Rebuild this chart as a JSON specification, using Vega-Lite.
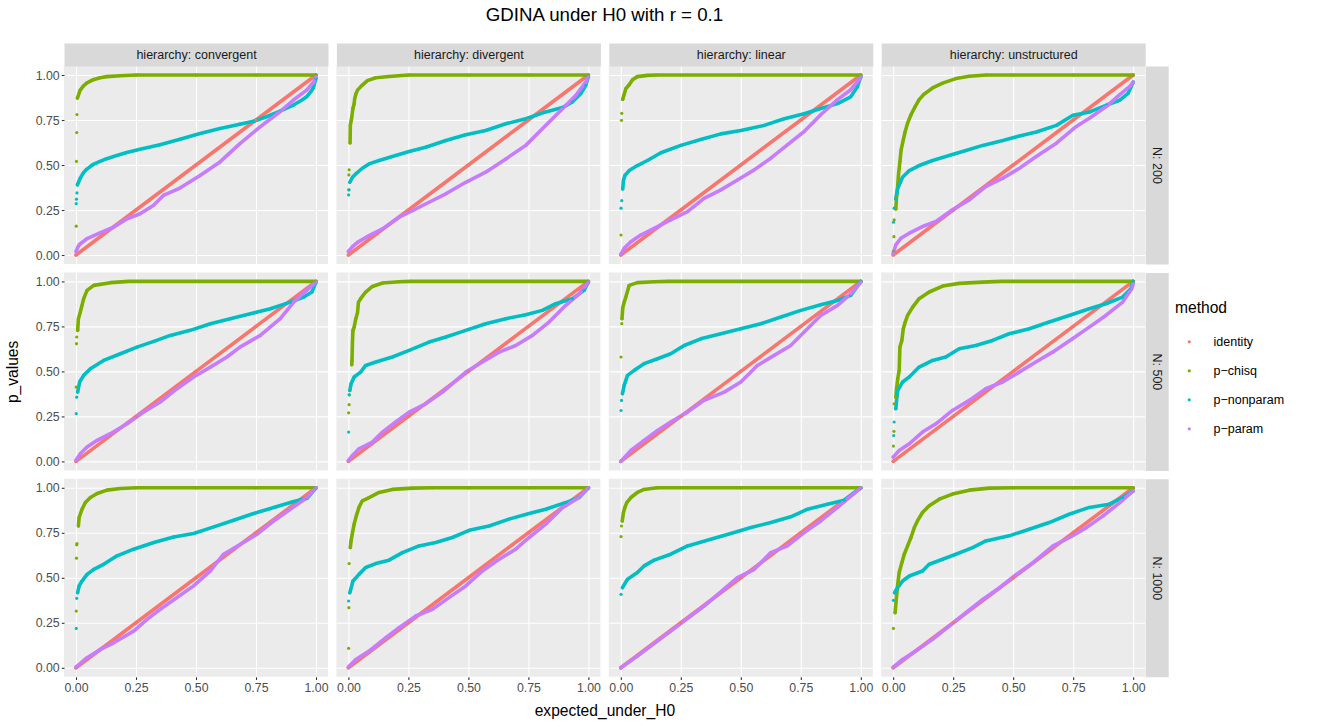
{
"$schema":"https://vega.github.io/schema/vega-lite/v6.json",
"padding":{"left":5,"top":5,"bottom":5,"right":170},
"background":"white",
"title":{"text":"GDINA under H0 with r = 0.1","fontSize":18.7,"fontWeight":"normal","color":"#000000","anchor":"middle","frame":"group","dx":540.5,"offset":24},
"datasets":{
"convergent_200":[
{"method":"identity","x":0,"y":0},{"method":"identity","x":0.25,"y":0.25},{"method":"identity","x":0.5,"y":0.5},{"method":"identity","x":0.75,"y":0.75},{"method":"identity","x":1,"y":1},
{"method":"p-chisq","x":0.001,"y":0.16},{"method":"p-chisq","x":0.002,"y":0.52},{"method":"p-chisq","x":0.003,"y":0.68},{"method":"p-chisq","x":0.004,"y":0.78},{"method":"p-chisq","x":0.006,"y":0.872},{"method":"p-chisq","x":0.017,"y":0.915},{"method":"p-chisq","x":0.031,"y":0.939},{"method":"p-chisq","x":0.044,"y":0.955},{"method":"p-chisq","x":0.072,"y":0.974},{"method":"p-chisq","x":0.1,"y":0.985},{"method":"p-chisq","x":0.128,"y":0.991},{"method":"p-chisq","x":0.183,"y":0.996},{"method":"p-chisq","x":0.25,"y":1},{"method":"p-chisq","x":0.5,"y":1},{"method":"p-chisq","x":0.75,"y":1},{"method":"p-chisq","x":1,"y":1},
{"method":"p-nonparam","x":0.001,"y":0.285},{"method":"p-nonparam","x":0.002,"y":0.31},{"method":"p-nonparam","x":0.004,"y":0.345},{"method":"p-nonparam","x":0.006,"y":0.39},{"method":"p-nonparam","x":0.017,"y":0.425},{"method":"p-nonparam","x":0.03,"y":0.455},{"method":"p-nonparam","x":0.044,"y":0.476},{"method":"p-nonparam","x":0.072,"y":0.504},{"method":"p-nonparam","x":0.1,"y":0.52},{"method":"p-nonparam","x":0.128,"y":0.535},{"method":"p-nonparam","x":0.17,"y":0.553},{"method":"p-nonparam","x":0.211,"y":0.569},{"method":"p-nonparam","x":0.267,"y":0.587},{"method":"p-nonparam","x":0.35,"y":0.613},{"method":"p-nonparam","x":0.433,"y":0.643},{"method":"p-nonparam","x":0.517,"y":0.675},{"method":"p-nonparam","x":0.6,"y":0.703},{"method":"p-nonparam","x":0.683,"y":0.727},{"method":"p-nonparam","x":0.739,"y":0.743},{"method":"p-nonparam","x":0.794,"y":0.768},{"method":"p-nonparam","x":0.85,"y":0.799},{"method":"p-nonparam","x":0.906,"y":0.833},{"method":"p-nonparam","x":0.94,"y":0.86},{"method":"p-nonparam","x":0.961,"y":0.879},{"method":"p-nonparam","x":0.98,"y":0.91},{"method":"p-nonparam","x":0.989,"y":0.929},{"method":"p-nonparam","x":1,"y":0.98},
{"method":"p-param","x":0,"y":0.02},{"method":"p-param","x":0.01,"y":0.05},{"method":"p-param","x":0.017,"y":0.061},{"method":"p-param","x":0.044,"y":0.089},{"method":"p-param","x":0.1,"y":0.123},{"method":"p-param","x":0.156,"y":0.154},{"method":"p-param","x":0.211,"y":0.2},{"method":"p-param","x":0.267,"y":0.229},{"method":"p-param","x":0.322,"y":0.275},{"method":"p-param","x":0.364,"y":0.331},{"method":"p-param","x":0.433,"y":0.372},{"method":"p-param","x":0.517,"y":0.442},{"method":"p-param","x":0.6,"y":0.517},{"method":"p-param","x":0.683,"y":0.619},{"method":"p-param","x":0.767,"y":0.712},{"method":"p-param","x":0.85,"y":0.796},{"method":"p-param","x":0.906,"y":0.861},{"method":"p-param","x":0.961,"y":0.916},{"method":"p-param","x":0.99,"y":0.96},{"method":"p-param","x":1,"y":0.99}
],
"divergent_200":[
{"method":"identity","x":0,"y":0},{"method":"identity","x":0.25,"y":0.25},{"method":"identity","x":0.5,"y":0.5},{"method":"identity","x":0.75,"y":0.75},{"method":"identity","x":1,"y":1},
{"method":"p-chisq","x":0.001,"y":0.362},{"method":"p-chisq","x":0.002,"y":0.445},{"method":"p-chisq","x":0.003,"y":0.473},{"method":"p-chisq","x":0.007,"y":0.623},{"method":"p-chisq","x":0.008,"y":0.72},{"method":"p-chisq","x":0.014,"y":0.766},{"method":"p-chisq","x":0.019,"y":0.815},{"method":"p-chisq","x":0.024,"y":0.84},{"method":"p-chisq","x":0.026,"y":0.867},{"method":"p-chisq","x":0.031,"y":0.894},{"method":"p-chisq","x":0.038,"y":0.916},{"method":"p-chisq","x":0.058,"y":0.944},{"method":"p-chisq","x":0.079,"y":0.969},{"method":"p-chisq","x":0.114,"y":0.985},{"method":"p-chisq","x":0.169,"y":0.992},{"method":"p-chisq","x":0.25,"y":1},{"method":"p-chisq","x":0.5,"y":1},{"method":"p-chisq","x":0.75,"y":1},{"method":"p-chisq","x":1,"y":1},
{"method":"p-nonparam","x":0.001,"y":0.334},{"method":"p-nonparam","x":0.003,"y":0.362},{"method":"p-nonparam","x":0.006,"y":0.404},{"method":"p-nonparam","x":0.017,"y":0.432},{"method":"p-nonparam","x":0.031,"y":0.451},{"method":"p-nonparam","x":0.058,"y":0.482},{"method":"p-nonparam","x":0.086,"y":0.506},{"method":"p-nonparam","x":0.128,"y":0.525},{"method":"p-nonparam","x":0.183,"y":0.547},{"method":"p-nonparam","x":0.253,"y":0.575},{"method":"p-nonparam","x":0.322,"y":0.599},{"method":"p-nonparam","x":0.406,"y":0.636},{"method":"p-nonparam","x":0.489,"y":0.668},{"method":"p-nonparam","x":0.572,"y":0.692},{"method":"p-nonparam","x":0.656,"y":0.729},{"method":"p-nonparam","x":0.739,"y":0.757},{"method":"p-nonparam","x":0.822,"y":0.795},{"method":"p-nonparam","x":0.892,"y":0.819},{"method":"p-nonparam","x":0.933,"y":0.85},{"method":"p-nonparam","x":0.968,"y":0.896},{"method":"p-nonparam","x":0.989,"y":0.943},{"method":"p-nonparam","x":1,"y":0.99},
{"method":"p-param","x":0,"y":0.02},{"method":"p-param","x":0.017,"y":0.046},{"method":"p-param","x":0.038,"y":0.07},{"method":"p-param","x":0.086,"y":0.108},{"method":"p-param","x":0.142,"y":0.145},{"method":"p-param","x":0.211,"y":0.21},{"method":"p-param","x":0.267,"y":0.247},{"method":"p-param","x":0.336,"y":0.293},{"method":"p-param","x":0.406,"y":0.34},{"method":"p-param","x":0.489,"y":0.404},{"method":"p-param","x":0.572,"y":0.46},{"method":"p-param","x":0.656,"y":0.534},{"method":"p-param","x":0.739,"y":0.609},{"method":"p-param","x":0.822,"y":0.72},{"method":"p-param","x":0.892,"y":0.813},{"method":"p-param","x":0.947,"y":0.886},{"method":"p-param","x":0.989,"y":0.96},{"method":"p-param","x":1,"y":0.99}
],
"linear_200":[
{"method":"identity","x":0,"y":0},{"method":"identity","x":0.25,"y":0.25},{"method":"identity","x":0.5,"y":0.5},{"method":"identity","x":0.75,"y":0.75},{"method":"identity","x":1,"y":1},
{"method":"p-chisq","x":0.001,"y":0.111},{"method":"p-chisq","x":0.003,"y":0.748},{"method":"p-chisq","x":0.004,"y":0.787},{"method":"p-chisq","x":0.008,"y":0.865},{"method":"p-chisq","x":0.014,"y":0.892},{"method":"p-chisq","x":0.021,"y":0.924},{"method":"p-chisq","x":0.035,"y":0.946},{"method":"p-chisq","x":0.049,"y":0.974},{"method":"p-chisq","x":0.069,"y":0.991},{"method":"p-chisq","x":0.111,"y":0.998},{"method":"p-chisq","x":0.15,"y":1},{"method":"p-chisq","x":0.5,"y":1},{"method":"p-chisq","x":0.75,"y":1},{"method":"p-chisq","x":1,"y":1},
{"method":"p-nonparam","x":0.001,"y":0.26},{"method":"p-nonparam","x":0.004,"y":0.302},{"method":"p-nonparam","x":0.008,"y":0.367},{"method":"p-nonparam","x":0.011,"y":0.414},{"method":"p-nonparam","x":0.017,"y":0.442},{"method":"p-nonparam","x":0.035,"y":0.469},{"method":"p-nonparam","x":0.069,"y":0.497},{"method":"p-nonparam","x":0.111,"y":0.525},{"method":"p-nonparam","x":0.167,"y":0.568},{"method":"p-nonparam","x":0.25,"y":0.609},{"method":"p-nonparam","x":0.333,"y":0.642},{"method":"p-nonparam","x":0.417,"y":0.673},{"method":"p-nonparam","x":0.5,"y":0.692},{"method":"p-nonparam","x":0.597,"y":0.72},{"method":"p-nonparam","x":0.681,"y":0.757},{"method":"p-nonparam","x":0.764,"y":0.785},{"method":"p-nonparam","x":0.833,"y":0.814},{"method":"p-nonparam","x":0.903,"y":0.841},{"method":"p-nonparam","x":0.958,"y":0.879},{"method":"p-nonparam","x":0.986,"y":0.935},{"method":"p-nonparam","x":1,"y":0.99},
{"method":"p-param","x":0,"y":0.004},{"method":"p-param","x":0.014,"y":0.037},{"method":"p-param","x":0.042,"y":0.074},{"method":"p-param","x":0.083,"y":0.111},{"method":"p-param","x":0.139,"y":0.148},{"method":"p-param","x":0.208,"y":0.195},{"method":"p-param","x":0.278,"y":0.241},{"method":"p-param","x":0.347,"y":0.315},{"method":"p-param","x":0.417,"y":0.362},{"method":"p-param","x":0.486,"y":0.417},{"method":"p-param","x":0.556,"y":0.473},{"method":"p-param","x":0.625,"y":0.538},{"method":"p-param","x":0.694,"y":0.612},{"method":"p-param","x":0.764,"y":0.686},{"method":"p-param","x":0.833,"y":0.779},{"method":"p-param","x":0.903,"y":0.863},{"method":"p-param","x":0.958,"y":0.918},{"method":"p-param","x":0.993,"y":0.974},{"method":"p-param","x":1,"y":0.99}
],
"unstructured_200":[
{"method":"identity","x":0,"y":0},{"method":"identity","x":0.25,"y":0.25},{"method":"identity","x":0.5,"y":0.5},{"method":"identity","x":0.75,"y":0.75},{"method":"identity","x":1,"y":1},
{"method":"p-chisq","x":0.001,"y":0.019},{"method":"p-chisq","x":0.003,"y":0.102},{"method":"p-chisq","x":0.004,"y":0.195},{"method":"p-chisq","x":0.011,"y":0.256},{"method":"p-chisq","x":0.014,"y":0.325},{"method":"p-chisq","x":0.018,"y":0.37},{"method":"p-chisq","x":0.022,"y":0.445},{"method":"p-chisq","x":0.028,"y":0.519},{"method":"p-chisq","x":0.033,"y":0.584},{"method":"p-chisq","x":0.042,"y":0.64},{"method":"p-chisq","x":0.05,"y":0.686},{"method":"p-chisq","x":0.06,"y":0.733},{"method":"p-chisq","x":0.074,"y":0.779},{"method":"p-chisq","x":0.092,"y":0.826},{"method":"p-chisq","x":0.108,"y":0.863},{"method":"p-chisq","x":0.129,"y":0.894},{"method":"p-chisq","x":0.164,"y":0.928},{"method":"p-chisq","x":0.206,"y":0.955},{"method":"p-chisq","x":0.261,"y":0.98},{"method":"p-chisq","x":0.317,"y":0.993},{"method":"p-chisq","x":0.387,"y":1},{"method":"p-chisq","x":0.5,"y":1},{"method":"p-chisq","x":0.75,"y":1},{"method":"p-chisq","x":1,"y":1},
{"method":"p-nonparam","x":0.001,"y":0.182},{"method":"p-nonparam","x":0.004,"y":0.26},{"method":"p-nonparam","x":0.011,"y":0.312},{"method":"p-nonparam","x":0.018,"y":0.367},{"method":"p-nonparam","x":0.039,"y":0.432},{"method":"p-nonparam","x":0.067,"y":0.469},{"method":"p-nonparam","x":0.108,"y":0.497},{"method":"p-nonparam","x":0.164,"y":0.525},{"method":"p-nonparam","x":0.233,"y":0.553},{"method":"p-nonparam","x":0.303,"y":0.581},{"method":"p-nonparam","x":0.373,"y":0.609},{"method":"p-nonparam","x":0.457,"y":0.636},{"method":"p-nonparam","x":0.526,"y":0.661},{"method":"p-nonparam","x":0.596,"y":0.683},{"method":"p-nonparam","x":0.68,"y":0.72},{"method":"p-nonparam","x":0.749,"y":0.776},{"method":"p-nonparam","x":0.819,"y":0.795},{"method":"p-nonparam","x":0.889,"y":0.833},{"method":"p-nonparam","x":0.944,"y":0.86},{"method":"p-nonparam","x":0.979,"y":0.898},{"method":"p-nonparam","x":1,"y":0.96},
{"method":"p-param","x":0,"y":0.009},{"method":"p-param","x":0.011,"y":0.056},{"method":"p-param","x":0.032,"y":0.093},{"method":"p-param","x":0.067,"y":0.121},{"method":"p-param","x":0.122,"y":0.158},{"method":"p-param","x":0.178,"y":0.186},{"method":"p-param","x":0.247,"y":0.251},{"method":"p-param","x":0.317,"y":0.306},{"method":"p-param","x":0.387,"y":0.381},{"method":"p-param","x":0.457,"y":0.427},{"method":"p-param","x":0.526,"y":0.482},{"method":"p-param","x":0.596,"y":0.547},{"method":"p-param","x":0.68,"y":0.621},{"method":"p-param","x":0.763,"y":0.714},{"method":"p-param","x":0.819,"y":0.761},{"method":"p-param","x":0.889,"y":0.826},{"method":"p-param","x":0.944,"y":0.891},{"method":"p-param","x":0.986,"y":0.937},{"method":"p-param","x":1,"y":0.96}
],
"convergent_500":[
{"method":"identity","x":0,"y":0},{"method":"identity","x":0.25,"y":0.25},{"method":"identity","x":0.5,"y":0.5},{"method":"identity","x":0.75,"y":0.75},{"method":"identity","x":1,"y":1},
{"method":"p-chisq","x":0.001,"y":0.413},{"method":"p-chisq","x":0.002,"y":0.654},{"method":"p-chisq","x":0.003,"y":0.691},{"method":"p-chisq","x":0.007,"y":0.728},{"method":"p-chisq","x":0.01,"y":0.793},{"method":"p-chisq","x":0.018,"y":0.83},{"method":"p-chisq","x":0.025,"y":0.867},{"method":"p-chisq","x":0.032,"y":0.904},{"method":"p-chisq","x":0.046,"y":0.95},{"method":"p-chisq","x":0.074,"y":0.978},{"method":"p-chisq","x":0.143,"y":0.993},{"method":"p-chisq","x":0.22,"y":1},{"method":"p-chisq","x":0.5,"y":1},{"method":"p-chisq","x":0.75,"y":1},{"method":"p-chisq","x":1,"y":1},
{"method":"p-nonparam","x":0.001,"y":0.265},{"method":"p-nonparam","x":0.003,"y":0.357},{"method":"p-nonparam","x":0.007,"y":0.385},{"method":"p-nonparam","x":0.015,"y":0.441},{"method":"p-nonparam","x":0.032,"y":0.478},{"method":"p-nonparam","x":0.06,"y":0.515},{"method":"p-nonparam","x":0.115,"y":0.561},{"method":"p-nonparam","x":0.185,"y":0.598},{"method":"p-nonparam","x":0.254,"y":0.635},{"method":"p-nonparam","x":0.324,"y":0.667},{"method":"p-nonparam","x":0.393,"y":0.7},{"method":"p-nonparam","x":0.476,"y":0.728},{"method":"p-nonparam","x":0.56,"y":0.765},{"method":"p-nonparam","x":0.643,"y":0.793},{"method":"p-nonparam","x":0.726,"y":0.82},{"method":"p-nonparam","x":0.81,"y":0.848},{"method":"p-nonparam","x":0.893,"y":0.885},{"method":"p-nonparam","x":0.949,"y":0.913},{"method":"p-nonparam","x":0.983,"y":0.941},{"method":"p-nonparam","x":1,"y":0.996},
{"method":"p-param","x":0,"y":0.006},{"method":"p-param","x":0.018,"y":0.043},{"method":"p-param","x":0.046,"y":0.08},{"method":"p-param","x":0.088,"y":0.117},{"method":"p-param","x":0.143,"y":0.154},{"method":"p-param","x":0.213,"y":0.209},{"method":"p-param","x":0.282,"y":0.274},{"method":"p-param","x":0.351,"y":0.33},{"method":"p-param","x":0.421,"y":0.404},{"method":"p-param","x":0.49,"y":0.469},{"method":"p-param","x":0.56,"y":0.524},{"method":"p-param","x":0.629,"y":0.58},{"method":"p-param","x":0.683,"y":0.635},{"method":"p-param","x":0.768,"y":0.7},{"method":"p-param","x":0.851,"y":0.793},{"method":"p-param","x":0.907,"y":0.885},{"method":"p-param","x":0.961,"y":0.95},{"method":"p-param","x":1,"y":0.996}
],
"divergent_500":[
{"method":"identity","x":0,"y":0},{"method":"identity","x":0.25,"y":0.25},{"method":"identity","x":0.5,"y":0.5},{"method":"identity","x":0.75,"y":0.75},{"method":"identity","x":1,"y":1},
{"method":"p-chisq","x":0.001,"y":0.27},{"method":"p-chisq","x":0.003,"y":0.315},{"method":"p-chisq","x":0.004,"y":0.37},{"method":"p-chisq","x":0.014,"y":0.537},{"method":"p-chisq","x":0.015,"y":0.561},{"method":"p-chisq","x":0.017,"y":0.669},{"method":"p-chisq","x":0.019,"y":0.728},{"method":"p-chisq","x":0.024,"y":0.746},{"method":"p-chisq","x":0.031,"y":0.793},{"method":"p-chisq","x":0.038,"y":0.826},{"method":"p-chisq","x":0.042,"y":0.885},{"method":"p-chisq","x":0.051,"y":0.904},{"method":"p-chisq","x":0.072,"y":0.941},{"method":"p-chisq","x":0.1,"y":0.972},{"method":"p-chisq","x":0.142,"y":0.991},{"method":"p-chisq","x":0.211,"y":0.998},{"method":"p-chisq","x":0.26,"y":1},{"method":"p-chisq","x":0.5,"y":1},{"method":"p-chisq","x":0.75,"y":1},{"method":"p-chisq","x":1,"y":1},
{"method":"p-nonparam","x":0.001,"y":0.163},{"method":"p-nonparam","x":0.003,"y":0.37},{"method":"p-nonparam","x":0.006,"y":0.394},{"method":"p-nonparam","x":0.011,"y":0.431},{"method":"p-nonparam","x":0.024,"y":0.469},{"method":"p-nonparam","x":0.051,"y":0.496},{"method":"p-nonparam","x":0.072,"y":0.533},{"method":"p-nonparam","x":0.114,"y":0.552},{"method":"p-nonparam","x":0.183,"y":0.58},{"method":"p-nonparam","x":0.253,"y":0.617},{"method":"p-nonparam","x":0.336,"y":0.663},{"method":"p-nonparam","x":0.406,"y":0.691},{"method":"p-nonparam","x":0.489,"y":0.728},{"method":"p-nonparam","x":0.572,"y":0.765},{"method":"p-nonparam","x":0.656,"y":0.793},{"method":"p-nonparam","x":0.739,"y":0.815},{"method":"p-nonparam","x":0.808,"y":0.839},{"method":"p-nonparam","x":0.864,"y":0.876},{"method":"p-nonparam","x":0.933,"y":0.904},{"method":"p-nonparam","x":0.982,"y":0.95},{"method":"p-nonparam","x":1,"y":0.996},
{"method":"p-param","x":0,"y":0.006},{"method":"p-param","x":0.017,"y":0.033},{"method":"p-param","x":0.044,"y":0.07},{"method":"p-param","x":0.1,"y":0.107},{"method":"p-param","x":0.142,"y":0.163},{"method":"p-param","x":0.197,"y":0.219},{"method":"p-param","x":0.253,"y":0.274},{"method":"p-param","x":0.322,"y":0.32},{"method":"p-param","x":0.392,"y":0.385},{"method":"p-param","x":0.489,"y":0.496},{"method":"p-param","x":0.558,"y":0.552},{"method":"p-param","x":0.628,"y":0.607},{"method":"p-param","x":0.697,"y":0.644},{"method":"p-param","x":0.767,"y":0.7},{"method":"p-param","x":0.836,"y":0.774},{"method":"p-param","x":0.906,"y":0.867},{"method":"p-param","x":0.961,"y":0.931},{"method":"p-param","x":1,"y":0.996}
],
"linear_500":[
{"method":"identity","x":0,"y":0},{"method":"identity","x":0.25,"y":0.25},{"method":"identity","x":0.5,"y":0.5},{"method":"identity","x":0.75,"y":0.75},{"method":"identity","x":1,"y":1},
{"method":"p-chisq","x":0.001,"y":0.58},{"method":"p-chisq","x":0.004,"y":0.765},{"method":"p-chisq","x":0.005,"y":0.793},{"method":"p-chisq","x":0.008,"y":0.852},{"method":"p-chisq","x":0.014,"y":0.885},{"method":"p-chisq","x":0.021,"y":0.913},{"method":"p-chisq","x":0.035,"y":0.978},{"method":"p-chisq","x":0.069,"y":0.993},{"method":"p-chisq","x":0.139,"y":0.998},{"method":"p-chisq","x":0.2,"y":1},{"method":"p-chisq","x":0.5,"y":1},{"method":"p-chisq","x":0.75,"y":1},{"method":"p-chisq","x":1,"y":1},
{"method":"p-nonparam","x":0.001,"y":0.283},{"method":"p-nonparam","x":0.003,"y":0.339},{"method":"p-nonparam","x":0.007,"y":0.376},{"method":"p-nonparam","x":0.014,"y":0.422},{"method":"p-nonparam","x":0.028,"y":0.478},{"method":"p-nonparam","x":0.056,"y":0.506},{"method":"p-nonparam","x":0.097,"y":0.543},{"method":"p-nonparam","x":0.153,"y":0.57},{"method":"p-nonparam","x":0.208,"y":0.598},{"method":"p-nonparam","x":0.264,"y":0.644},{"method":"p-nonparam","x":0.333,"y":0.681},{"method":"p-nonparam","x":0.417,"y":0.709},{"method":"p-nonparam","x":0.5,"y":0.737},{"method":"p-nonparam","x":0.583,"y":0.765},{"method":"p-nonparam","x":0.667,"y":0.802},{"method":"p-nonparam","x":0.75,"y":0.839},{"method":"p-nonparam","x":0.833,"y":0.87},{"method":"p-nonparam","x":0.903,"y":0.894},{"method":"p-nonparam","x":0.958,"y":0.922},{"method":"p-nonparam","x":1,"y":1},
{"method":"p-param","x":0,"y":0},{"method":"p-param","x":0.042,"y":0.061},{"method":"p-param","x":0.097,"y":0.117},{"method":"p-param","x":0.153,"y":0.172},{"method":"p-param","x":0.208,"y":0.219},{"method":"p-param","x":0.278,"y":0.274},{"method":"p-param","x":0.347,"y":0.339},{"method":"p-param","x":0.431,"y":0.385},{"method":"p-param","x":0.5,"y":0.441},{"method":"p-param","x":0.569,"y":0.533},{"method":"p-param","x":0.639,"y":0.589},{"method":"p-param","x":0.708,"y":0.644},{"method":"p-param","x":0.764,"y":0.719},{"method":"p-param","x":0.833,"y":0.811},{"method":"p-param","x":0.903,"y":0.867},{"method":"p-param","x":0.958,"y":0.931},{"method":"p-param","x":1,"y":0.996}
],
"unstructured_500":[
{"method":"identity","x":0,"y":0},{"method":"identity","x":0.25,"y":0.25},{"method":"identity","x":0.5,"y":0.5},{"method":"identity","x":0.75,"y":0.75},{"method":"identity","x":1,"y":1},
{"method":"p-chisq","x":0.001,"y":0.085},{"method":"p-chisq","x":0.003,"y":0.167},{"method":"p-chisq","x":0.004,"y":0.32},{"method":"p-chisq","x":0.011,"y":0.357},{"method":"p-chisq","x":0.014,"y":0.404},{"method":"p-chisq","x":0.019,"y":0.459},{"method":"p-chisq","x":0.025,"y":0.506},{"method":"p-chisq","x":0.028,"y":0.635},{"method":"p-chisq","x":0.036,"y":0.672},{"method":"p-chisq","x":0.042,"y":0.737},{"method":"p-chisq","x":0.05,"y":0.774},{"method":"p-chisq","x":0.06,"y":0.811},{"method":"p-chisq","x":0.081,"y":0.857},{"method":"p-chisq","x":0.108,"y":0.904},{"method":"p-chisq","x":0.15,"y":0.941},{"method":"p-chisq","x":0.206,"y":0.974},{"method":"p-chisq","x":0.275,"y":0.989},{"method":"p-chisq","x":0.372,"y":0.996},{"method":"p-chisq","x":0.45,"y":1},{"method":"p-chisq","x":0.75,"y":1},{"method":"p-chisq","x":1,"y":1},
{"method":"p-nonparam","x":0.002,"y":0.144},{"method":"p-nonparam","x":0.004,"y":0.219},{"method":"p-nonparam","x":0.011,"y":0.293},{"method":"p-nonparam","x":0.014,"y":0.339},{"method":"p-nonparam","x":0.019,"y":0.394},{"method":"p-nonparam","x":0.039,"y":0.441},{"method":"p-nonparam","x":0.067,"y":0.469},{"method":"p-nonparam","x":0.108,"y":0.524},{"method":"p-nonparam","x":0.164,"y":0.561},{"method":"p-nonparam","x":0.219,"y":0.58},{"method":"p-nonparam","x":0.275,"y":0.626},{"method":"p-nonparam","x":0.344,"y":0.644},{"method":"p-nonparam","x":0.414,"y":0.672},{"method":"p-nonparam","x":0.483,"y":0.709},{"method":"p-nonparam","x":0.567,"y":0.737},{"method":"p-nonparam","x":0.65,"y":0.774},{"method":"p-nonparam","x":0.733,"y":0.811},{"method":"p-nonparam","x":0.817,"y":0.848},{"method":"p-nonparam","x":0.886,"y":0.876},{"method":"p-nonparam","x":0.956,"y":0.913},{"method":"p-nonparam","x":0.99,"y":0.959},{"method":"p-nonparam","x":1,"y":1},
{"method":"p-param","x":0,"y":0.024},{"method":"p-param","x":0.025,"y":0.061},{"method":"p-param","x":0.067,"y":0.098},{"method":"p-param","x":0.122,"y":0.163},{"method":"p-param","x":0.178,"y":0.209},{"method":"p-param","x":0.247,"y":0.283},{"method":"p-param","x":0.317,"y":0.339},{"method":"p-param","x":0.386,"y":0.404},{"method":"p-param","x":0.456,"y":0.441},{"method":"p-param","x":0.525,"y":0.496},{"method":"p-param","x":0.594,"y":0.552},{"method":"p-param","x":0.664,"y":0.607},{"method":"p-param","x":0.747,"y":0.681},{"method":"p-param","x":0.817,"y":0.746},{"method":"p-param","x":0.886,"y":0.811},{"method":"p-param","x":0.956,"y":0.885},{"method":"p-param","x":0.994,"y":0.959},{"method":"p-param","x":1,"y":0.987}
],
"convergent_1000":[
{"method":"identity","x":0,"y":0},{"method":"identity","x":0.25,"y":0.25},{"method":"identity","x":0.5,"y":0.5},{"method":"identity","x":0.75,"y":0.75},{"method":"identity","x":1,"y":1},
{"method":"p-chisq","x":0.001,"y":0.315},{"method":"p-chisq","x":0.002,"y":0.609},{"method":"p-chisq","x":0.003,"y":0.683},{"method":"p-chisq","x":0.004,"y":0.69},{"method":"p-chisq","x":0.01,"y":0.788},{"method":"p-chisq","x":0.013,"y":0.835},{"method":"p-chisq","x":0.025,"y":0.881},{"method":"p-chisq","x":0.039,"y":0.918},{"method":"p-chisq","x":0.06,"y":0.946},{"method":"p-chisq","x":0.088,"y":0.968},{"method":"p-chisq","x":0.129,"y":0.987},{"method":"p-chisq","x":0.185,"y":0.996},{"method":"p-chisq","x":0.25,"y":1},{"method":"p-chisq","x":0.5,"y":1},{"method":"p-chisq","x":0.75,"y":1},{"method":"p-chisq","x":1,"y":1},
{"method":"p-nonparam","x":0.001,"y":0.219},{"method":"p-nonparam","x":0.003,"y":0.386},{"method":"p-nonparam","x":0.007,"y":0.417},{"method":"p-nonparam","x":0.013,"y":0.455},{"method":"p-nonparam","x":0.025,"y":0.482},{"method":"p-nonparam","x":0.046,"y":0.519},{"method":"p-nonparam","x":0.074,"y":0.547},{"method":"p-nonparam","x":0.115,"y":0.575},{"method":"p-nonparam","x":0.171,"y":0.622},{"method":"p-nonparam","x":0.24,"y":0.659},{"method":"p-nonparam","x":0.324,"y":0.696},{"method":"p-nonparam","x":0.407,"y":0.727},{"method":"p-nonparam","x":0.49,"y":0.746},{"method":"p-nonparam","x":0.574,"y":0.783},{"method":"p-nonparam","x":0.657,"y":0.82},{"method":"p-nonparam","x":0.74,"y":0.857},{"method":"p-nonparam","x":0.824,"y":0.891},{"method":"p-nonparam","x":0.907,"y":0.924},{"method":"p-nonparam","x":0.963,"y":0.942},{"method":"p-nonparam","x":1,"y":1},
{"method":"p-param","x":0,"y":0.004},{"method":"p-param","x":0.046,"y":0.056},{"method":"p-param","x":0.101,"y":0.102},{"method":"p-param","x":0.157,"y":0.139},{"method":"p-param","x":0.24,"y":0.204},{"method":"p-param","x":0.296,"y":0.269},{"method":"p-param","x":0.351,"y":0.325},{"method":"p-param","x":0.421,"y":0.39},{"method":"p-param","x":0.49,"y":0.455},{"method":"p-param","x":0.56,"y":0.538},{"method":"p-param","x":0.615,"y":0.631},{"method":"p-param","x":0.685,"y":0.686},{"method":"p-param","x":0.754,"y":0.742},{"method":"p-param","x":0.824,"y":0.816},{"method":"p-param","x":0.893,"y":0.881},{"method":"p-param","x":0.963,"y":0.946},{"method":"p-param","x":1,"y":1}
],
"divergent_1000":[
{"method":"identity","x":0,"y":0},{"method":"identity","x":0.25,"y":0.25},{"method":"identity","x":0.5,"y":0.5},{"method":"identity","x":0.75,"y":0.75},{"method":"identity","x":1,"y":1},
{"method":"p-chisq","x":0.001,"y":0.108},{"method":"p-chisq","x":0.002,"y":0.334},{"method":"p-chisq","x":0.003,"y":0.579},{"method":"p-chisq","x":0.008,"y":0.668},{"method":"p-chisq","x":0.011,"y":0.705},{"method":"p-chisq","x":0.017,"y":0.751},{"method":"p-chisq","x":0.024,"y":0.798},{"method":"p-chisq","x":0.033,"y":0.844},{"method":"p-chisq","x":0.044,"y":0.891},{"method":"p-chisq","x":0.058,"y":0.928},{"method":"p-chisq","x":0.086,"y":0.946},{"method":"p-chisq","x":0.128,"y":0.974},{"method":"p-chisq","x":0.183,"y":0.991},{"method":"p-chisq","x":0.267,"y":0.998},{"method":"p-chisq","x":0.35,"y":1},{"method":"p-chisq","x":0.5,"y":1},{"method":"p-chisq","x":0.75,"y":1},{"method":"p-chisq","x":1,"y":1},
{"method":"p-nonparam","x":0.001,"y":0.371},{"method":"p-nonparam","x":0.006,"y":0.417},{"method":"p-nonparam","x":0.019,"y":0.482},{"method":"p-nonparam","x":0.044,"y":0.519},{"method":"p-nonparam","x":0.072,"y":0.557},{"method":"p-nonparam","x":0.114,"y":0.579},{"method":"p-nonparam","x":0.169,"y":0.598},{"method":"p-nonparam","x":0.225,"y":0.64},{"method":"p-nonparam","x":0.294,"y":0.677},{"method":"p-nonparam","x":0.364,"y":0.696},{"method":"p-nonparam","x":0.433,"y":0.724},{"method":"p-nonparam","x":0.503,"y":0.764},{"method":"p-nonparam","x":0.586,"y":0.788},{"method":"p-nonparam","x":0.669,"y":0.826},{"method":"p-nonparam","x":0.753,"y":0.857},{"method":"p-nonparam","x":0.822,"y":0.881},{"method":"p-nonparam","x":0.906,"y":0.918},{"method":"p-nonparam","x":0.961,"y":0.946},{"method":"p-nonparam","x":1,"y":1},
{"method":"p-param","x":0,"y":0.004},{"method":"p-param","x":0.031,"y":0.046},{"method":"p-param","x":0.086,"y":0.093},{"method":"p-param","x":0.156,"y":0.167},{"method":"p-param","x":0.211,"y":0.223},{"method":"p-param","x":0.281,"y":0.288},{"method":"p-param","x":0.35,"y":0.325},{"method":"p-param","x":0.419,"y":0.39},{"method":"p-param","x":0.489,"y":0.455},{"method":"p-param","x":0.558,"y":0.538},{"method":"p-param","x":0.628,"y":0.603},{"method":"p-param","x":0.697,"y":0.659},{"method":"p-param","x":0.753,"y":0.724},{"method":"p-param","x":0.822,"y":0.798},{"method":"p-param","x":0.892,"y":0.89},{"method":"p-param","x":0.961,"y":0.946},{"method":"p-param","x":1,"y":1}
],
"linear_1000":[
{"method":"identity","x":0,"y":0},{"method":"identity","x":0.25,"y":0.25},{"method":"identity","x":0.5,"y":0.5},{"method":"identity","x":0.75,"y":0.75},{"method":"identity","x":1,"y":1},
{"method":"p-chisq","x":0.001,"y":0.729},{"method":"p-chisq","x":0.003,"y":0.788},{"method":"p-chisq","x":0.006,"y":0.816},{"method":"p-chisq","x":0.011,"y":0.863},{"method":"p-chisq","x":0.017,"y":0.891},{"method":"p-chisq","x":0.025,"y":0.918},{"method":"p-chisq","x":0.042,"y":0.946},{"method":"p-chisq","x":0.069,"y":0.974},{"method":"p-chisq","x":0.097,"y":0.991},{"method":"p-chisq","x":0.15,"y":1},{"method":"p-chisq","x":0.5,"y":1},{"method":"p-chisq","x":0.75,"y":1},{"method":"p-chisq","x":1,"y":1},
{"method":"p-nonparam","x":0.001,"y":0.408},{"method":"p-nonparam","x":0.007,"y":0.445},{"method":"p-nonparam","x":0.028,"y":0.492},{"method":"p-nonparam","x":0.069,"y":0.529},{"method":"p-nonparam","x":0.097,"y":0.566},{"method":"p-nonparam","x":0.139,"y":0.598},{"method":"p-nonparam","x":0.208,"y":0.631},{"method":"p-nonparam","x":0.278,"y":0.677},{"method":"p-nonparam","x":0.375,"y":0.714},{"method":"p-nonparam","x":0.458,"y":0.746},{"method":"p-nonparam","x":0.542,"y":0.779},{"method":"p-nonparam","x":0.625,"y":0.807},{"method":"p-nonparam","x":0.708,"y":0.839},{"method":"p-nonparam","x":0.778,"y":0.881},{"method":"p-nonparam","x":0.861,"y":0.909},{"method":"p-nonparam","x":0.931,"y":0.931},{"method":"p-nonparam","x":1,"y":1},
{"method":"p-param","x":0,"y":0},{"method":"p-param","x":0.069,"y":0.065},{"method":"p-param","x":0.208,"y":0.204},{"method":"p-param","x":0.347,"y":0.343},{"method":"p-param","x":0.486,"y":0.501},{"method":"p-param","x":0.556,"y":0.547},{"method":"p-param","x":0.625,"y":0.64},{"method":"p-param","x":0.694,"y":0.677},{"method":"p-param","x":0.764,"y":0.751},{"method":"p-param","x":0.833,"y":0.816},{"method":"p-param","x":0.903,"y":0.891},{"method":"p-param","x":1,"y":1}
],
"unstructured_1000":[
{"method":"identity","x":0,"y":0},{"method":"identity","x":0.25,"y":0.25},{"method":"identity","x":0.5,"y":0.5},{"method":"identity","x":0.75,"y":0.75},{"method":"identity","x":1,"y":1},
{"method":"p-chisq","x":0.001,"y":0.219},{"method":"p-chisq","x":0.008,"y":0.306},{"method":"p-chisq","x":0.014,"y":0.399},{"method":"p-chisq","x":0.019,"y":0.464},{"method":"p-chisq","x":0.025,"y":0.529},{"method":"p-chisq","x":0.036,"y":0.584},{"method":"p-chisq","x":0.046,"y":0.631},{"method":"p-chisq","x":0.06,"y":0.677},{"method":"p-chisq","x":0.074,"y":0.724},{"method":"p-chisq","x":0.088,"y":0.779},{"method":"p-chisq","x":0.101,"y":0.816},{"method":"p-chisq","x":0.122,"y":0.863},{"method":"p-chisq","x":0.15,"y":0.9},{"method":"p-chisq","x":0.192,"y":0.937},{"method":"p-chisq","x":0.247,"y":0.965},{"method":"p-chisq","x":0.317,"y":0.987},{"method":"p-chisq","x":0.4,"y":0.998},{"method":"p-chisq","x":0.5,"y":1},{"method":"p-chisq","x":0.75,"y":1},{"method":"p-chisq","x":1,"y":1},
{"method":"p-nonparam","x":0.001,"y":0.375},{"method":"p-nonparam","x":0.006,"y":0.417},{"method":"p-nonparam","x":0.018,"y":0.445},{"method":"p-nonparam","x":0.039,"y":0.482},{"method":"p-nonparam","x":0.067,"y":0.51},{"method":"p-nonparam","x":0.122,"y":0.538},{"method":"p-nonparam","x":0.15,"y":0.575},{"method":"p-nonparam","x":0.206,"y":0.603},{"method":"p-nonparam","x":0.261,"y":0.631},{"method":"p-nonparam","x":0.331,"y":0.668},{"method":"p-nonparam","x":0.386,"y":0.705},{"method":"p-nonparam","x":0.483,"y":0.733},{"method":"p-nonparam","x":0.567,"y":0.77},{"method":"p-nonparam","x":0.65,"y":0.807},{"method":"p-nonparam","x":0.733,"y":0.853},{"method":"p-nonparam","x":0.817,"y":0.891},{"method":"p-nonparam","x":0.9,"y":0.909},{"method":"p-nonparam","x":0.956,"y":0.946},{"method":"p-nonparam","x":1,"y":0.983},
{"method":"p-param","x":0,"y":0.004},{"method":"p-param","x":0.039,"y":0.046},{"method":"p-param","x":0.094,"y":0.093},{"method":"p-param","x":0.164,"y":0.158},{"method":"p-param","x":0.233,"y":0.232},{"method":"p-param","x":0.303,"y":0.306},{"method":"p-param","x":0.373,"y":0.38},{"method":"p-param","x":0.443,"y":0.445},{"method":"p-param","x":0.513,"y":0.519},{"method":"p-param","x":0.582,"y":0.584},{"method":"p-param","x":0.666,"y":0.677},{"method":"p-param","x":0.735,"y":0.724},{"method":"p-param","x":0.805,"y":0.779},{"method":"p-param","x":0.875,"y":0.844},{"method":"p-param","x":0.944,"y":0.918},{"method":"p-param","x":1,"y":0.983}
]
},
"columns":4,
"spacing":8.4,
"bounds":"flush",
"concat":[
{"width":264,"height":198,"data":{"name":"convergent_200"},"view":{"fill":"#EBEBEB","stroke":null},"resolve":{"axis":{"x":"independent","y":"independent"}},"layer":[
{"transform":[{"filter":"datum.x >= 0.005 || datum.method == 'identity' || datum.method == 'p-param'"}],"mark":{"type":"line","strokeWidth":3.6,"strokeCap":"round","strokeJoin":"round"},"encoding":{
"x":{"field":"x","type":"quantitative","scale":{"domain":[-0.05,1.05],"nice":false,"zero":false},"axis":{"orient":"bottom","values":[0,0.25,0.5,0.75,1],"labels":false,"ticks":false,"title":null}},
"y":{"field":"y","type":"quantitative","scale":{"domain":[-0.05,1.05],"nice":false,"zero":false},"axis":{"orient":"left","values":[0,0.25,0.5,0.75,1],"format":".2f","labels":true,"ticks":true,"title":null}},
"stroke":{"field":"method","type":"nominal","scale":{"domain":["p-param","p-nonparam","p-chisq","identity"],"range":["#C77CFF","#00BFC4","#7CAE00","#F8766D"]},"legend":null}}},
{"mark":{"type":"circle","size":10,"opacity":1},"encoding":{
"x":{"field":"x","type":"quantitative","scale":{"domain":[-0.05,1.05],"nice":false,"zero":false},"axis":{"orient":"top","values":[0.125,0.375,0.625,0.875],"gridWidth":0.55,"labels":false,"ticks":false,"domain":true,"offset":11.5,"title":"hierarchy: convergent","titleY":0,"titleBaseline":"middle","titleAlign":"center","titleFontSize":12.5,"titleColor":"#1A1A1A"}},
"y":{"field":"y","type":"quantitative","scale":{"domain":[-0.05,1.05],"nice":false,"zero":false},"axis":{"orient":"right","values":[0.125,0.375,0.625,0.875],"gridWidth":0.55,"labels":false,"ticks":false,"domain":false,"title":null}},
"color":{"field":"method","type":"nominal","scale":{"domain":["identity","p-chisq","p-nonparam","p-param"],"range":["#F8766D","#7CAE00","#00BFC4","#C77CFF"]},"legend":{"orient":"none","legendX":1111,"legendY":235,"title":"method","padding":0,"titleFontSize":15.6,"titleFontWeight":"normal","titleColor":"#000000","titlePadding":19,"labelFontSize":12.5,"labelColor":"#000000","labelExpr":"replace(datum.label, '-', '\u2212')","rowPadding":16,"symbolSize":10,"symbolType":"circle","symbolOffset":8,"labelOffset":18}}}}
]},
{"width":264,"height":198,"data":{"name":"divergent_200"},"view":{"fill":"#EBEBEB","stroke":null},"resolve":{"axis":{"x":"independent","y":"independent"}},"layer":[
{"transform":[{"filter":"datum.x >= 0.005 || datum.method == 'identity' || datum.method == 'p-param'"}],"mark":{"type":"line","strokeWidth":3.6,"strokeCap":"round","strokeJoin":"round"},"encoding":{
"x":{"field":"x","type":"quantitative","scale":{"domain":[-0.05,1.05],"nice":false,"zero":false},"axis":{"orient":"bottom","values":[0,0.25,0.5,0.75,1],"labels":false,"ticks":false,"title":null}},
"y":{"field":"y","type":"quantitative","scale":{"domain":[-0.05,1.05],"nice":false,"zero":false},"axis":{"orient":"left","values":[0,0.25,0.5,0.75,1],"labels":false,"ticks":false,"title":null}},
"stroke":{"field":"method","type":"nominal","scale":{"domain":["p-param","p-nonparam","p-chisq","identity"],"range":["#C77CFF","#00BFC4","#7CAE00","#F8766D"]},"legend":null}}},
{"mark":{"type":"circle","size":10,"opacity":1},"encoding":{
"x":{"field":"x","type":"quantitative","scale":{"domain":[-0.05,1.05],"nice":false,"zero":false},"axis":{"orient":"top","values":[0.125,0.375,0.625,0.875],"gridWidth":0.55,"labels":false,"ticks":false,"domain":true,"offset":11.5,"title":"hierarchy: divergent","titleY":0,"titleBaseline":"middle","titleAlign":"center","titleFontSize":12.5,"titleColor":"#1A1A1A"}},
"y":{"field":"y","type":"quantitative","scale":{"domain":[-0.05,1.05],"nice":false,"zero":false},"axis":{"orient":"right","values":[0.125,0.375,0.625,0.875],"gridWidth":0.55,"labels":false,"ticks":false,"domain":false,"title":null}},
"color":{"field":"method","type":"nominal","scale":{"domain":["identity","p-chisq","p-nonparam","p-param"],"range":["#F8766D","#7CAE00","#00BFC4","#C77CFF"]},"legend":{"orient":"none","legendX":1111,"legendY":235,"title":"method","padding":0,"titleFontSize":15.6,"titleFontWeight":"normal","titleColor":"#000000","titlePadding":19,"labelFontSize":12.5,"labelColor":"#000000","labelExpr":"replace(datum.label, '-', '\u2212')","rowPadding":16,"symbolSize":10,"symbolType":"circle","symbolOffset":8,"labelOffset":18}}}}
]},
{"width":264,"height":198,"data":{"name":"linear_200"},"view":{"fill":"#EBEBEB","stroke":null},"resolve":{"axis":{"x":"independent","y":"independent"}},"layer":[
{"transform":[{"filter":"datum.x >= 0.005 || datum.method == 'identity' || datum.method == 'p-param'"}],"mark":{"type":"line","strokeWidth":3.6,"strokeCap":"round","strokeJoin":"round"},"encoding":{
"x":{"field":"x","type":"quantitative","scale":{"domain":[-0.05,1.05],"nice":false,"zero":false},"axis":{"orient":"bottom","values":[0,0.25,0.5,0.75,1],"labels":false,"ticks":false,"title":null}},
"y":{"field":"y","type":"quantitative","scale":{"domain":[-0.05,1.05],"nice":false,"zero":false},"axis":{"orient":"left","values":[0,0.25,0.5,0.75,1],"labels":false,"ticks":false,"title":null}},
"stroke":{"field":"method","type":"nominal","scale":{"domain":["p-param","p-nonparam","p-chisq","identity"],"range":["#C77CFF","#00BFC4","#7CAE00","#F8766D"]},"legend":null}}},
{"mark":{"type":"circle","size":10,"opacity":1},"encoding":{
"x":{"field":"x","type":"quantitative","scale":{"domain":[-0.05,1.05],"nice":false,"zero":false},"axis":{"orient":"top","values":[0.125,0.375,0.625,0.875],"gridWidth":0.55,"labels":false,"ticks":false,"domain":true,"offset":11.5,"title":"hierarchy: linear","titleY":0,"titleBaseline":"middle","titleAlign":"center","titleFontSize":12.5,"titleColor":"#1A1A1A"}},
"y":{"field":"y","type":"quantitative","scale":{"domain":[-0.05,1.05],"nice":false,"zero":false},"axis":{"orient":"right","values":[0.125,0.375,0.625,0.875],"gridWidth":0.55,"labels":false,"ticks":false,"domain":false,"title":null}},
"color":{"field":"method","type":"nominal","scale":{"domain":["identity","p-chisq","p-nonparam","p-param"],"range":["#F8766D","#7CAE00","#00BFC4","#C77CFF"]},"legend":{"orient":"none","legendX":1111,"legendY":235,"title":"method","padding":0,"titleFontSize":15.6,"titleFontWeight":"normal","titleColor":"#000000","titlePadding":19,"labelFontSize":12.5,"labelColor":"#000000","labelExpr":"replace(datum.label, '-', '\u2212')","rowPadding":16,"symbolSize":10,"symbolType":"circle","symbolOffset":8,"labelOffset":18}}}}
]},
{"width":264,"height":198,"data":{"name":"unstructured_200"},"view":{"fill":"#EBEBEB","stroke":null},"resolve":{"axis":{"x":"independent","y":"independent"}},"layer":[
{"transform":[{"filter":"datum.x >= 0.005 || datum.method == 'identity' || datum.method == 'p-param'"}],"mark":{"type":"line","strokeWidth":3.6,"strokeCap":"round","strokeJoin":"round"},"encoding":{
"x":{"field":"x","type":"quantitative","scale":{"domain":[-0.05,1.05],"nice":false,"zero":false},"axis":{"orient":"bottom","values":[0,0.25,0.5,0.75,1],"labels":false,"ticks":false,"title":null}},
"y":{"field":"y","type":"quantitative","scale":{"domain":[-0.05,1.05],"nice":false,"zero":false},"axis":{"orient":"left","values":[0,0.25,0.5,0.75,1],"labels":false,"ticks":false,"title":null}},
"stroke":{"field":"method","type":"nominal","scale":{"domain":["p-param","p-nonparam","p-chisq","identity"],"range":["#C77CFF","#00BFC4","#7CAE00","#F8766D"]},"legend":null}}},
{"mark":{"type":"circle","size":10,"opacity":1},"encoding":{
"x":{"field":"x","type":"quantitative","scale":{"domain":[-0.05,1.05],"nice":false,"zero":false},"axis":{"orient":"top","values":[0.125,0.375,0.625,0.875],"gridWidth":0.55,"labels":false,"ticks":false,"domain":true,"offset":11.5,"title":"hierarchy: unstructured","titleY":0,"titleBaseline":"middle","titleAlign":"center","titleFontSize":12.5,"titleColor":"#1A1A1A"}},
"y":{"field":"y","type":"quantitative","scale":{"domain":[-0.05,1.05],"nice":false,"zero":false},"axis":{"orient":"right","values":[0.125,0.375,0.625,0.875],"gridWidth":0.55,"labels":false,"ticks":false,"domain":true,"offset":11.5,"title":"N: 200","titleX":0,"titleAngle":90,"titleBaseline":"middle","titleAlign":"center","titleFontSize":12.5,"titleColor":"#1A1A1A"}},
"color":{"field":"method","type":"nominal","scale":{"domain":["identity","p-chisq","p-nonparam","p-param"],"range":["#F8766D","#7CAE00","#00BFC4","#C77CFF"]},"legend":{"orient":"none","legendX":1111,"legendY":235,"title":"method","padding":0,"titleFontSize":15.6,"titleFontWeight":"normal","titleColor":"#000000","titlePadding":19,"labelFontSize":12.5,"labelColor":"#000000","labelExpr":"replace(datum.label, '-', '\u2212')","rowPadding":16,"symbolSize":10,"symbolType":"circle","symbolOffset":8,"labelOffset":18}}}}
]},
{"width":264,"height":198,"data":{"name":"convergent_500"},"view":{"fill":"#EBEBEB","stroke":null},"resolve":{"axis":{"x":"independent","y":"independent"}},"layer":[
{"transform":[{"filter":"datum.x >= 0.005 || datum.method == 'identity' || datum.method == 'p-param'"}],"mark":{"type":"line","strokeWidth":3.6,"strokeCap":"round","strokeJoin":"round"},"encoding":{
"x":{"field":"x","type":"quantitative","scale":{"domain":[-0.05,1.05],"nice":false,"zero":false},"axis":{"orient":"bottom","values":[0,0.25,0.5,0.75,1],"labels":false,"ticks":false,"title":null}},
"y":{"field":"y","type":"quantitative","scale":{"domain":[-0.05,1.05],"nice":false,"zero":false},"axis":{"orient":"left","values":[0,0.25,0.5,0.75,1],"format":".2f","labels":true,"ticks":true,"title":"p_values","titlePadding":15}},
"stroke":{"field":"method","type":"nominal","scale":{"domain":["p-param","p-nonparam","p-chisq","identity"],"range":["#C77CFF","#00BFC4","#7CAE00","#F8766D"]},"legend":null}}},
{"mark":{"type":"circle","size":10,"opacity":1},"encoding":{
"x":{"field":"x","type":"quantitative","scale":{"domain":[-0.05,1.05],"nice":false,"zero":false},"axis":{"orient":"top","values":[0.125,0.375,0.625,0.875],"gridWidth":0.55,"labels":false,"ticks":false,"domain":false,"title":null}},
"y":{"field":"y","type":"quantitative","scale":{"domain":[-0.05,1.05],"nice":false,"zero":false},"axis":{"orient":"right","values":[0.125,0.375,0.625,0.875],"gridWidth":0.55,"labels":false,"ticks":false,"domain":false,"title":null}},
"color":{"field":"method","type":"nominal","scale":{"domain":["identity","p-chisq","p-nonparam","p-param"],"range":["#F8766D","#7CAE00","#00BFC4","#C77CFF"]},"legend":{"orient":"none","legendX":1111,"legendY":235,"title":"method","padding":0,"titleFontSize":15.6,"titleFontWeight":"normal","titleColor":"#000000","titlePadding":19,"labelFontSize":12.5,"labelColor":"#000000","labelExpr":"replace(datum.label, '-', '\u2212')","rowPadding":16,"symbolSize":10,"symbolType":"circle","symbolOffset":8,"labelOffset":18}}}}
]},
{"width":264,"height":198,"data":{"name":"divergent_500"},"view":{"fill":"#EBEBEB","stroke":null},"resolve":{"axis":{"x":"independent","y":"independent"}},"layer":[
{"transform":[{"filter":"datum.x >= 0.005 || datum.method == 'identity' || datum.method == 'p-param'"}],"mark":{"type":"line","strokeWidth":3.6,"strokeCap":"round","strokeJoin":"round"},"encoding":{
"x":{"field":"x","type":"quantitative","scale":{"domain":[-0.05,1.05],"nice":false,"zero":false},"axis":{"orient":"bottom","values":[0,0.25,0.5,0.75,1],"labels":false,"ticks":false,"title":null}},
"y":{"field":"y","type":"quantitative","scale":{"domain":[-0.05,1.05],"nice":false,"zero":false},"axis":{"orient":"left","values":[0,0.25,0.5,0.75,1],"labels":false,"ticks":false,"title":null}},
"stroke":{"field":"method","type":"nominal","scale":{"domain":["p-param","p-nonparam","p-chisq","identity"],"range":["#C77CFF","#00BFC4","#7CAE00","#F8766D"]},"legend":null}}},
{"mark":{"type":"circle","size":10,"opacity":1},"encoding":{
"x":{"field":"x","type":"quantitative","scale":{"domain":[-0.05,1.05],"nice":false,"zero":false},"axis":{"orient":"top","values":[0.125,0.375,0.625,0.875],"gridWidth":0.55,"labels":false,"ticks":false,"domain":false,"title":null}},
"y":{"field":"y","type":"quantitative","scale":{"domain":[-0.05,1.05],"nice":false,"zero":false},"axis":{"orient":"right","values":[0.125,0.375,0.625,0.875],"gridWidth":0.55,"labels":false,"ticks":false,"domain":false,"title":null}},
"color":{"field":"method","type":"nominal","scale":{"domain":["identity","p-chisq","p-nonparam","p-param"],"range":["#F8766D","#7CAE00","#00BFC4","#C77CFF"]},"legend":{"orient":"none","legendX":1111,"legendY":235,"title":"method","padding":0,"titleFontSize":15.6,"titleFontWeight":"normal","titleColor":"#000000","titlePadding":19,"labelFontSize":12.5,"labelColor":"#000000","labelExpr":"replace(datum.label, '-', '\u2212')","rowPadding":16,"symbolSize":10,"symbolType":"circle","symbolOffset":8,"labelOffset":18}}}}
]},
{"width":264,"height":198,"data":{"name":"linear_500"},"view":{"fill":"#EBEBEB","stroke":null},"resolve":{"axis":{"x":"independent","y":"independent"}},"layer":[
{"transform":[{"filter":"datum.x >= 0.005 || datum.method == 'identity' || datum.method == 'p-param'"}],"mark":{"type":"line","strokeWidth":3.6,"strokeCap":"round","strokeJoin":"round"},"encoding":{
"x":{"field":"x","type":"quantitative","scale":{"domain":[-0.05,1.05],"nice":false,"zero":false},"axis":{"orient":"bottom","values":[0,0.25,0.5,0.75,1],"labels":false,"ticks":false,"title":null}},
"y":{"field":"y","type":"quantitative","scale":{"domain":[-0.05,1.05],"nice":false,"zero":false},"axis":{"orient":"left","values":[0,0.25,0.5,0.75,1],"labels":false,"ticks":false,"title":null}},
"stroke":{"field":"method","type":"nominal","scale":{"domain":["p-param","p-nonparam","p-chisq","identity"],"range":["#C77CFF","#00BFC4","#7CAE00","#F8766D"]},"legend":null}}},
{"mark":{"type":"circle","size":10,"opacity":1},"encoding":{
"x":{"field":"x","type":"quantitative","scale":{"domain":[-0.05,1.05],"nice":false,"zero":false},"axis":{"orient":"top","values":[0.125,0.375,0.625,0.875],"gridWidth":0.55,"labels":false,"ticks":false,"domain":false,"title":null}},
"y":{"field":"y","type":"quantitative","scale":{"domain":[-0.05,1.05],"nice":false,"zero":false},"axis":{"orient":"right","values":[0.125,0.375,0.625,0.875],"gridWidth":0.55,"labels":false,"ticks":false,"domain":false,"title":null}},
"color":{"field":"method","type":"nominal","scale":{"domain":["identity","p-chisq","p-nonparam","p-param"],"range":["#F8766D","#7CAE00","#00BFC4","#C77CFF"]},"legend":{"orient":"none","legendX":1111,"legendY":235,"title":"method","padding":0,"titleFontSize":15.6,"titleFontWeight":"normal","titleColor":"#000000","titlePadding":19,"labelFontSize":12.5,"labelColor":"#000000","labelExpr":"replace(datum.label, '-', '\u2212')","rowPadding":16,"symbolSize":10,"symbolType":"circle","symbolOffset":8,"labelOffset":18}}}}
]},
{"width":264,"height":198,"data":{"name":"unstructured_500"},"view":{"fill":"#EBEBEB","stroke":null},"resolve":{"axis":{"x":"independent","y":"independent"}},"layer":[
{"transform":[{"filter":"datum.x >= 0.005 || datum.method == 'identity' || datum.method == 'p-param'"}],"mark":{"type":"line","strokeWidth":3.6,"strokeCap":"round","strokeJoin":"round"},"encoding":{
"x":{"field":"x","type":"quantitative","scale":{"domain":[-0.05,1.05],"nice":false,"zero":false},"axis":{"orient":"bottom","values":[0,0.25,0.5,0.75,1],"labels":false,"ticks":false,"title":null}},
"y":{"field":"y","type":"quantitative","scale":{"domain":[-0.05,1.05],"nice":false,"zero":false},"axis":{"orient":"left","values":[0,0.25,0.5,0.75,1],"labels":false,"ticks":false,"title":null}},
"stroke":{"field":"method","type":"nominal","scale":{"domain":["p-param","p-nonparam","p-chisq","identity"],"range":["#C77CFF","#00BFC4","#7CAE00","#F8766D"]},"legend":null}}},
{"mark":{"type":"circle","size":10,"opacity":1},"encoding":{
"x":{"field":"x","type":"quantitative","scale":{"domain":[-0.05,1.05],"nice":false,"zero":false},"axis":{"orient":"top","values":[0.125,0.375,0.625,0.875],"gridWidth":0.55,"labels":false,"ticks":false,"domain":false,"title":null}},
"y":{"field":"y","type":"quantitative","scale":{"domain":[-0.05,1.05],"nice":false,"zero":false},"axis":{"orient":"right","values":[0.125,0.375,0.625,0.875],"gridWidth":0.55,"labels":false,"ticks":false,"domain":true,"offset":11.5,"title":"N: 500","titleX":0,"titleAngle":90,"titleBaseline":"middle","titleAlign":"center","titleFontSize":12.5,"titleColor":"#1A1A1A"}},
"color":{"field":"method","type":"nominal","scale":{"domain":["identity","p-chisq","p-nonparam","p-param"],"range":["#F8766D","#7CAE00","#00BFC4","#C77CFF"]},"legend":{"orient":"none","legendX":1111,"legendY":235,"title":"method","padding":0,"titleFontSize":15.6,"titleFontWeight":"normal","titleColor":"#000000","titlePadding":19,"labelFontSize":12.5,"labelColor":"#000000","labelExpr":"replace(datum.label, '-', '\u2212')","rowPadding":16,"symbolSize":10,"symbolType":"circle","symbolOffset":8,"labelOffset":18}}}}
]},
{"width":264,"height":198,"data":{"name":"convergent_1000"},"view":{"fill":"#EBEBEB","stroke":null},"resolve":{"axis":{"x":"independent","y":"independent"}},"layer":[
{"transform":[{"filter":"datum.x >= 0.005 || datum.method == 'identity' || datum.method == 'p-param'"}],"mark":{"type":"line","strokeWidth":3.6,"strokeCap":"round","strokeJoin":"round"},"encoding":{
"x":{"field":"x","type":"quantitative","scale":{"domain":[-0.05,1.05],"nice":false,"zero":false},"axis":{"orient":"bottom","values":[0,0.25,0.5,0.75,1],"format":".2f","labels":true,"ticks":true,"title":null}},
"y":{"field":"y","type":"quantitative","scale":{"domain":[-0.05,1.05],"nice":false,"zero":false},"axis":{"orient":"left","values":[0,0.25,0.5,0.75,1],"format":".2f","labels":true,"ticks":true,"title":null}},
"stroke":{"field":"method","type":"nominal","scale":{"domain":["p-param","p-nonparam","p-chisq","identity"],"range":["#C77CFF","#00BFC4","#7CAE00","#F8766D"]},"legend":null}}},
{"mark":{"type":"circle","size":10,"opacity":1},"encoding":{
"x":{"field":"x","type":"quantitative","scale":{"domain":[-0.05,1.05],"nice":false,"zero":false},"axis":{"orient":"top","values":[0.125,0.375,0.625,0.875],"gridWidth":0.55,"labels":false,"ticks":false,"domain":false,"title":null}},
"y":{"field":"y","type":"quantitative","scale":{"domain":[-0.05,1.05],"nice":false,"zero":false},"axis":{"orient":"right","values":[0.125,0.375,0.625,0.875],"gridWidth":0.55,"labels":false,"ticks":false,"domain":false,"title":null}},
"color":{"field":"method","type":"nominal","scale":{"domain":["identity","p-chisq","p-nonparam","p-param"],"range":["#F8766D","#7CAE00","#00BFC4","#C77CFF"]},"legend":{"orient":"none","legendX":1111,"legendY":235,"title":"method","padding":0,"titleFontSize":15.6,"titleFontWeight":"normal","titleColor":"#000000","titlePadding":19,"labelFontSize":12.5,"labelColor":"#000000","labelExpr":"replace(datum.label, '-', '\u2212')","rowPadding":16,"symbolSize":10,"symbolType":"circle","symbolOffset":8,"labelOffset":18}}}}
]},
{"width":264,"height":198,"data":{"name":"divergent_1000"},"view":{"fill":"#EBEBEB","stroke":null},"resolve":{"axis":{"x":"independent","y":"independent"}},"layer":[
{"transform":[{"filter":"datum.x >= 0.005 || datum.method == 'identity' || datum.method == 'p-param'"}],"mark":{"type":"line","strokeWidth":3.6,"strokeCap":"round","strokeJoin":"round"},"encoding":{
"x":{"field":"x","type":"quantitative","scale":{"domain":[-0.05,1.05],"nice":false,"zero":false},"axis":{"orient":"bottom","values":[0,0.25,0.5,0.75,1],"format":".2f","labels":true,"ticks":true,"title":"expected_under_H0","titleX":268,"titlePadding":9}},
"y":{"field":"y","type":"quantitative","scale":{"domain":[-0.05,1.05],"nice":false,"zero":false},"axis":{"orient":"left","values":[0,0.25,0.5,0.75,1],"labels":false,"ticks":false,"title":null}},
"stroke":{"field":"method","type":"nominal","scale":{"domain":["p-param","p-nonparam","p-chisq","identity"],"range":["#C77CFF","#00BFC4","#7CAE00","#F8766D"]},"legend":null}}},
{"mark":{"type":"circle","size":10,"opacity":1},"encoding":{
"x":{"field":"x","type":"quantitative","scale":{"domain":[-0.05,1.05],"nice":false,"zero":false},"axis":{"orient":"top","values":[0.125,0.375,0.625,0.875],"gridWidth":0.55,"labels":false,"ticks":false,"domain":false,"title":null}},
"y":{"field":"y","type":"quantitative","scale":{"domain":[-0.05,1.05],"nice":false,"zero":false},"axis":{"orient":"right","values":[0.125,0.375,0.625,0.875],"gridWidth":0.55,"labels":false,"ticks":false,"domain":false,"title":null}},
"color":{"field":"method","type":"nominal","scale":{"domain":["identity","p-chisq","p-nonparam","p-param"],"range":["#F8766D","#7CAE00","#00BFC4","#C77CFF"]},"legend":{"orient":"none","legendX":1111,"legendY":235,"title":"method","padding":0,"titleFontSize":15.6,"titleFontWeight":"normal","titleColor":"#000000","titlePadding":19,"labelFontSize":12.5,"labelColor":"#000000","labelExpr":"replace(datum.label, '-', '\u2212')","rowPadding":16,"symbolSize":10,"symbolType":"circle","symbolOffset":8,"labelOffset":18}}}}
]},
{"width":264,"height":198,"data":{"name":"linear_1000"},"view":{"fill":"#EBEBEB","stroke":null},"resolve":{"axis":{"x":"independent","y":"independent"}},"layer":[
{"transform":[{"filter":"datum.x >= 0.005 || datum.method == 'identity' || datum.method == 'p-param'"}],"mark":{"type":"line","strokeWidth":3.6,"strokeCap":"round","strokeJoin":"round"},"encoding":{
"x":{"field":"x","type":"quantitative","scale":{"domain":[-0.05,1.05],"nice":false,"zero":false},"axis":{"orient":"bottom","values":[0,0.25,0.5,0.75,1],"format":".2f","labels":true,"ticks":true,"title":null}},
"y":{"field":"y","type":"quantitative","scale":{"domain":[-0.05,1.05],"nice":false,"zero":false},"axis":{"orient":"left","values":[0,0.25,0.5,0.75,1],"labels":false,"ticks":false,"title":null}},
"stroke":{"field":"method","type":"nominal","scale":{"domain":["p-param","p-nonparam","p-chisq","identity"],"range":["#C77CFF","#00BFC4","#7CAE00","#F8766D"]},"legend":null}}},
{"mark":{"type":"circle","size":10,"opacity":1},"encoding":{
"x":{"field":"x","type":"quantitative","scale":{"domain":[-0.05,1.05],"nice":false,"zero":false},"axis":{"orient":"top","values":[0.125,0.375,0.625,0.875],"gridWidth":0.55,"labels":false,"ticks":false,"domain":false,"title":null}},
"y":{"field":"y","type":"quantitative","scale":{"domain":[-0.05,1.05],"nice":false,"zero":false},"axis":{"orient":"right","values":[0.125,0.375,0.625,0.875],"gridWidth":0.55,"labels":false,"ticks":false,"domain":false,"title":null}},
"color":{"field":"method","type":"nominal","scale":{"domain":["identity","p-chisq","p-nonparam","p-param"],"range":["#F8766D","#7CAE00","#00BFC4","#C77CFF"]},"legend":{"orient":"none","legendX":1111,"legendY":235,"title":"method","padding":0,"titleFontSize":15.6,"titleFontWeight":"normal","titleColor":"#000000","titlePadding":19,"labelFontSize":12.5,"labelColor":"#000000","labelExpr":"replace(datum.label, '-', '\u2212')","rowPadding":16,"symbolSize":10,"symbolType":"circle","symbolOffset":8,"labelOffset":18}}}}
]},
{"width":264,"height":198,"data":{"name":"unstructured_1000"},"view":{"fill":"#EBEBEB","stroke":null},"resolve":{"axis":{"x":"independent","y":"independent"}},"layer":[
{"transform":[{"filter":"datum.x >= 0.005 || datum.method == 'identity' || datum.method == 'p-param'"}],"mark":{"type":"line","strokeWidth":3.6,"strokeCap":"round","strokeJoin":"round"},"encoding":{
"x":{"field":"x","type":"quantitative","scale":{"domain":[-0.05,1.05],"nice":false,"zero":false},"axis":{"orient":"bottom","values":[0,0.25,0.5,0.75,1],"format":".2f","labels":true,"ticks":true,"title":null}},
"y":{"field":"y","type":"quantitative","scale":{"domain":[-0.05,1.05],"nice":false,"zero":false},"axis":{"orient":"left","values":[0,0.25,0.5,0.75,1],"labels":false,"ticks":false,"title":null}},
"stroke":{"field":"method","type":"nominal","scale":{"domain":["p-param","p-nonparam","p-chisq","identity"],"range":["#C77CFF","#00BFC4","#7CAE00","#F8766D"]},"legend":null}}},
{"mark":{"type":"circle","size":10,"opacity":1},"encoding":{
"x":{"field":"x","type":"quantitative","scale":{"domain":[-0.05,1.05],"nice":false,"zero":false},"axis":{"orient":"top","values":[0.125,0.375,0.625,0.875],"gridWidth":0.55,"labels":false,"ticks":false,"domain":false,"title":null}},
"y":{"field":"y","type":"quantitative","scale":{"domain":[-0.05,1.05],"nice":false,"zero":false},"axis":{"orient":"right","values":[0.125,0.375,0.625,0.875],"gridWidth":0.55,"labels":false,"ticks":false,"domain":true,"offset":11.5,"title":"N: 1000","titleX":0,"titleAngle":90,"titleBaseline":"middle","titleAlign":"center","titleFontSize":12.5,"titleColor":"#1A1A1A"}},
"color":{"field":"method","type":"nominal","scale":{"domain":["identity","p-chisq","p-nonparam","p-param"],"range":["#F8766D","#7CAE00","#00BFC4","#C77CFF"]},"legend":{"orient":"none","legendX":1111,"legendY":235,"title":"method","padding":0,"titleFontSize":15.6,"titleFontWeight":"normal","titleColor":"#000000","titlePadding":19,"labelFontSize":12.5,"labelColor":"#000000","labelExpr":"replace(datum.label, '-', '\u2212')","rowPadding":16,"symbolSize":10,"symbolType":"circle","symbolOffset":8,"labelOffset":18}}}}
]}
],
"resolve":{"scale":{"color":"shared","stroke":"shared"},"legend":{"color":"shared","stroke":"shared"}},
"config":{
"font":"Liberation Sans",
"view":{"stroke":null},
"axis":{"grid":true,"gridColor":"#FFFFFF","gridWidth":1.1,"domain":false,"domainColor":"#D9D9D9","domainWidth":23,"domainCap":"butt","tickColor":"#333333","tickSize":2.7,"tickWidth":1.1,"labelColor":"#4D4D4D","labelFontSize":12.3,"labelPadding":2.2,"titleFontSize":15.6,"titleFontWeight":"normal","titleColor":"#000000"}
}
}
